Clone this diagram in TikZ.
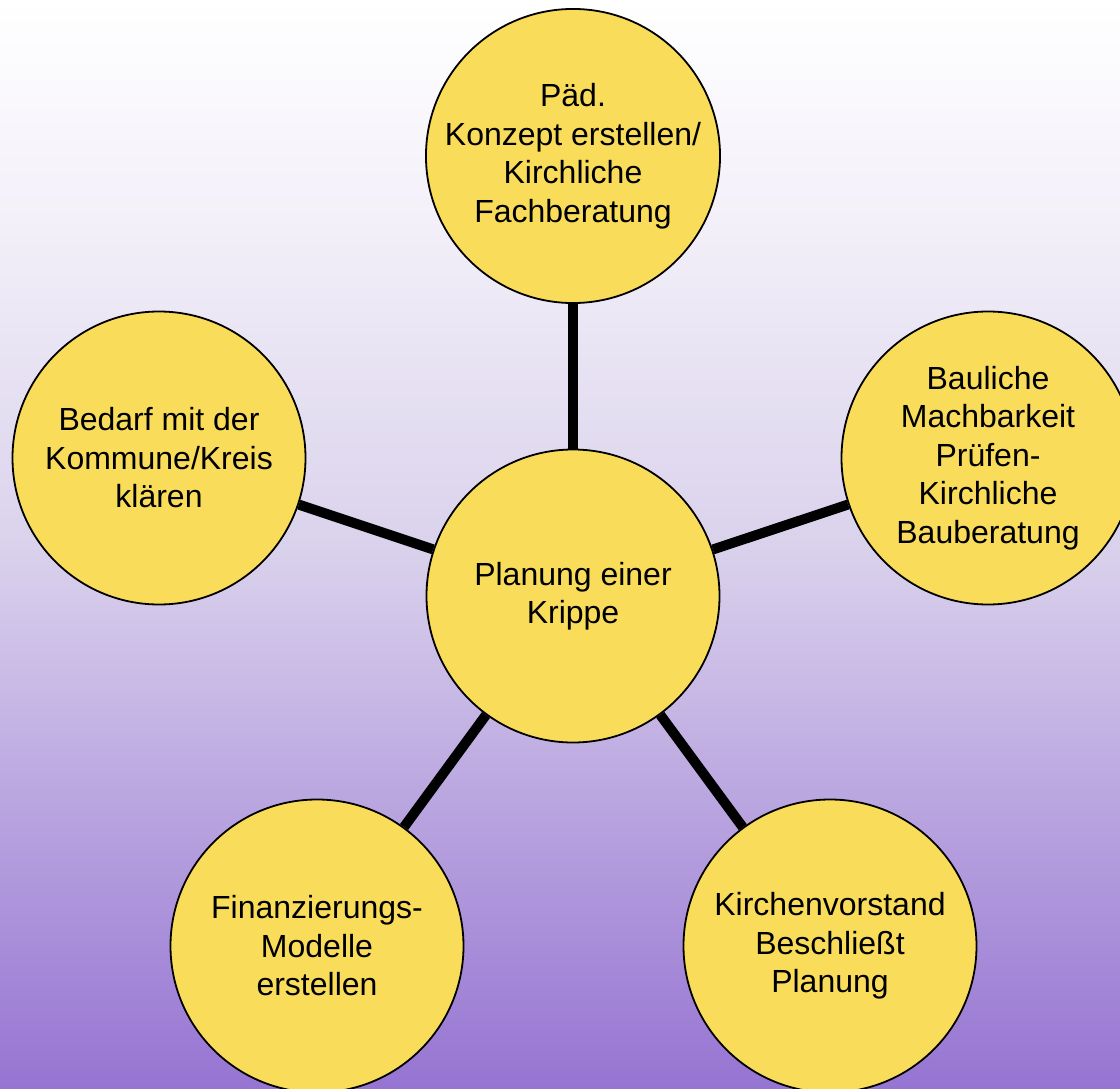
\documentclass[tikz,border=0pt]{standalone}
\usepackage{fontspec}
\setmainfont{Liberation Sans}
\usetikzlibrary{positioning}

\definecolor{bubblefill}{RGB}{249,221,90}
\definecolor{bgbottom}{RGB}{150,116,210}
\definecolor{bgmid}{RGB}{218,210,236}
\definecolor{bgtop}{RGB}{243,240,249}
\pgfdeclareverticalshading{backdrop}{100bp}{color(0bp)=(bgbottom); color(25bp)=(bgbottom); color(50bp)=(bgmid); color(65bp)=(bgtop); color(75bp)=(white); color(100bp)=(white)}

\begin{document}
\begin{tikzpicture}[x=1pt, y=1pt, on grid,
    bubble/.style={circle, draw, line width=1.8pt, fill=bubblefill, minimum size=293pt,
        inner sep=0pt, align=center, font=\fontsize{32}{38.5}\selectfont},
    spoke/.style={line width=10pt}]
    % Background
    \useasboundingbox (0,0) rectangle (1120,-1089);
    \clip (0,0) rectangle (1120,-1089);
    \shade [shading=backdrop] (0,0) rectangle (1120,-1089);

    % Nodes {plan, konzept, bedarf, bau, finanz, vorstand}
    \node [bubble]  (plan)      at (573,-596)                       {Planung einer\\Krippe};
    \node [bubble]  (konzept)   [above=440pt of plan]               {Päd.\\Konzept erstellen/\\Kirchliche\\Fachberatung};
    \node [bubble]  (bedarf)    [above left=138pt and 414pt of plan]  {Bedarf mit der\\Kommune/Kreis\\klären};
    \node [bubble]  (bau)       [above right=138pt and 415pt of plan] {Bauliche\\Machbarkeit\\Prüfen-\\Kirchliche\\Bauberatung};
    \node [bubble]  (finanz)    [below left=350pt and 256pt of plan]  {Finanzierungs-\\Modelle\\erstellen};
    \node [bubble]  (vorstand)  [below right=350pt and 257pt of plan] {Kirchenvorstand\\Beschließt\\Planung};

    % Paths
    \path [spoke]   (plan) edge     (konzept);
    \path [spoke]   (plan) edge     (bedarf);
    \path [spoke]   (plan) edge     (bau);
    \path [spoke]   (plan) edge     (finanz);
    \path [spoke]   (plan) edge     (vorstand);

\end{tikzpicture}
\end{document}
